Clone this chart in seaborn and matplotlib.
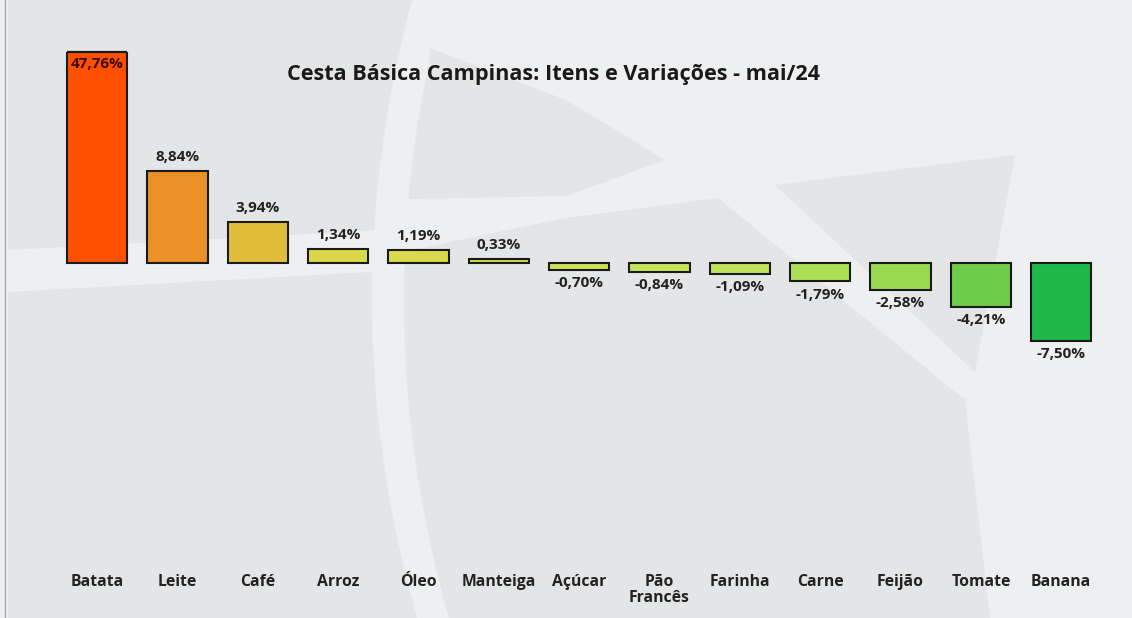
import numpy as np
import pandas as pd
import matplotlib.pyplot as plt
import matplotlib.patches as mpatches
from matplotlib.lines import Line2D
import seaborn as sns

# dados da cesta basica
itens = ['Batata', 'Leite', 'Café', 'Arroz', 'Óleo', 'Manteiga', 'Açúcar',
         'Pão\nFrancês', 'Farinha', 'Carne', 'Feijão', 'Tomate', 'Banana']
variacao = [47.76, 8.84, 3.94, 1.34, 1.19, 0.33, -0.70,
            -0.84, -1.09, -1.79, -2.58, -4.21, -7.50]
cores = ['#FF5000', '#EC9028', '#E0BE3C', '#DAD848', '#D8DA4A', '#D2DC50', '#C8E05A',
         '#C4E25C', '#BEE25A', '#AEE056', '#9ADA52', '#6ECC4A', '#1EB848']

data = pd.DataFrame({'item': itens, 'var': variacao})

sns.set_style('white')
plt.rcParams['font.family'] = ['Open Sans', 'DejaVu Sans']

fig = plt.figure(figsize=(11.32, 6.18), dpi=100)
fig.patch.set_facecolor('#EDEFF1')

# marca d'agua ao fundo (globo cinza), so decoracao
bg = fig.add_axes([0, 0, 1, 1], zorder=0)
bg.set_xlim(0, 1132)
bg.set_ylim(618, 0)
bg.axis('off')
cinza = '#E3E5E7'
yy = np.linspace(0, 618, 60)
borda = 372 + 40 * ((yy - 300) / 300) ** 2   # borda curva da faixa vertical
def curva(y0, y1, dx):
    m = (yy >= y0) & (yy <= y1)
    return list(zip(borda[m] + dx, yy[m]))
formas = [
    [(8, 0)] + curva(0, 235, 0) + [(8, 250)],
    curva(60, 205, 32)[::-1] + [(430, 48), (566, 100), (665, 160), (566, 196)],
    [(8, 292), (372, 272)] + curva(280, 618, 0)[::-1][::-1] + [(8, 618)],
    [(566, 218), (718, 198), (965, 400), (990, 618)] + curva(245, 618, 32)[::-1],
    [(775, 185), (1015, 155), (975, 372)],
]
for f in formas:
    bg.add_patch(mpatches.Polygon(f, closed=True, color=cinza, lw=0))
bg.add_artist(Line2D([5, 5], [0, 618], color='#a8a8a8', lw=1))

ax = fig.add_axes([0.0504, 0.094, 0.9225, 0.822], zorder=1)
ax.patch.set_alpha(0)
sns.barplot(data=data, x='item', y='var', hue='item', palette=cores, legend=False,
            saturation=1, width=0.75, edgecolor='#1a1a1a', linewidth=1.5, ax=ax)
topo = 20.3
ax.set_ylim(-28.6, topo)
ax.set_xlim(-0.5, len(itens) - 0.5)

for i, v in enumerate(variacao):
    txt = f'{v:.2f}%'.replace('.', ',')
    if v > topo:
        # barra cortada no topo: desenha a borda superior
        p = ax.patches[i]
        ax.plot([p.get_x(), p.get_x() + p.get_width()], [topo, topo],
                color='#1a1a1a', lw=1.6, clip_on=False, solid_capstyle='butt')
        ax.text(i, topo - 0.5, txt, ha='center', va='top', fontsize=11,
                fontweight='bold', color='#3c0a00')
    elif v >= 0:
        ax.text(i, v + 0.7, txt, ha='center', va='bottom', fontsize=11,
                fontweight='bold', color='#222222')
    else:
        ax.text(i, v - 0.6, txt, ha='center', va='top', fontsize=11,
                fontweight='bold', color='#222222')

ax.set_xlabel('')
ax.set_ylabel('')
ax.set_yticks([])
ax.tick_params(axis='x', length=0, pad=10)
for lab in ax.get_xticklabels():
    lab.set_fontweight('bold')
    lab.set_fontsize(11.3)
    lab.set_color('#222222')
    lab.set_linespacing(1.0)
sns.despine(ax=ax, left=True, bottom=True)

fig.text(0.489, 0.879, 'Cesta Básica Campinas: Itens e Variações - mai/24',
         ha='center', va='center', fontsize=15.6, fontweight='bold', color='#1a1a1a')

plt.savefig('out.png', dpi=100)
